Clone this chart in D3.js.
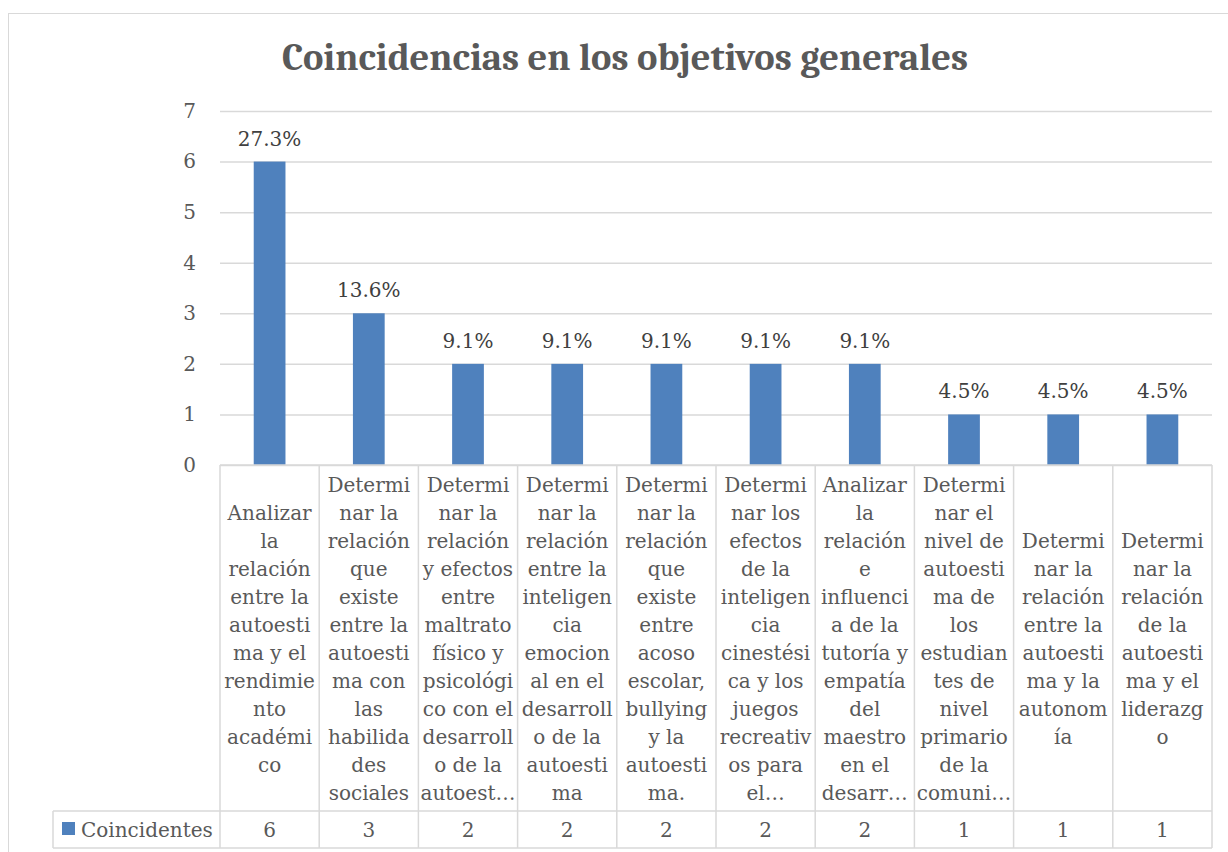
<!DOCTYPE html>
<html>
<head>
<meta charset="utf-8">
<script src="https://cdn.jsdelivr.net/npm/d3@7"></script>
<style>
  html, body { margin: 0; padding: 0; background: #fff; }
  svg { display: block; }
</style>
</head>
<body>
<div id="chart"></div>
<script>
// Data
const seriesName = 'Coincidentes';
const values = [6, 3, 2, 2, 2, 2, 2, 1, 1, 1];
const pctLabels = ['27.3%', '13.6%', '9.1%', '9.1%', '9.1%', '9.1%', '9.1%', '4.5%', '4.5%', '4.5%'];
const yTicks = [0, 1, 2, 3, 4, 5, 6, 7];
// category labels, wrapped the way the table shows them
const categoryLines = [
    ['Analizar', 'la', 'relación', 'entre la', 'autoesti', 'ma y el', 'rendimie', 'nto', 'académi', 'co'],
    ['Determi', 'nar la', 'relación', 'que', 'existe', 'entre la', 'autoesti', 'ma con', 'las', 'habilida', 'des', 'sociales'],
    ['Determi', 'nar la', 'relación', 'y efectos', 'entre', 'maltrato', 'físico y', 'psicológi', 'co con el', 'desarroll', 'o de la', 'autoest…'],
    ['Determi', 'nar la', 'relación', 'entre la', 'inteligen', 'cia', 'emocion', 'al en el', 'desarroll', 'o de la', 'autoesti', 'ma'],
    ['Determi', 'nar la', 'relación', 'que', 'existe', 'entre', 'acoso', 'escolar,', 'bullying', 'y la', 'autoesti', 'ma.'],
    ['Determi', 'nar los', 'efectos', 'de la', 'inteligen', 'cia', 'cinestési', 'ca y los', 'juegos', 'recreativ', 'os para', 'el…'],
    ['Analizar', 'la', 'relación', 'e', 'influenci', 'a de la', 'tutoría y', 'empatía', 'del', 'maestro', 'en el', 'desarr…'],
    ['Determi', 'nar el', 'nivel de', 'autoesti', 'ma de', 'los', 'estudian', 'tes de', 'nivel', 'primario', 'de la', 'comuni…'],
    ['Determi', 'nar la', 'relación', 'entre la', 'autoesti', 'ma y la', 'autonom', 'ía'],
    ['Determi', 'nar la', 'relación', 'de la', 'autoesti', 'ma y el', 'liderazg', 'o']
];
const chartTitle = 'Coincidencias en los objetivos generales';

const W = 1228, H = 852;
const titleFont = "Cambria, 'Liberation Serif', serif";
const font = "'DejaVu Serif', serif";
const fontSize = 20;
const grid = '#d9d9d9';
const barColor = '#4f81bd';

const plot = { left: 220, right: 1212, top: 111, bottom: 465 };
const table = { legendLeft: 53, headBottom: 811, bottom: 848 };
const lineH = 28;
const maxLines = 12;

const svg = d3.select('#chart').append('svg')
    .attr('width', W)
    .attr('height', H);

// outer chart border
svg.append('rect')
    .attr('x', 8.5).attr('y', 13.5)
    .attr('width', W + 10).attr('height', H + 10)
    .attr('fill', '#fff')
    .attr('stroke', grid)
    .attr('stroke-width', 1);

// title
svg.append('text')
    .attr('x', 625).attr('y', 70)
    .attr('text-anchor', 'middle')
    .attr('font-family', titleFont)
    .attr('font-weight', 'bold')
    .attr('font-size', 38.5)
    .attr('fill', '#595959')
    .text(chartTitle);

const idx = values.map((_, i) => i);

const x = d3.scaleBand()
    .domain(idx)
    .range([plot.left, plot.right])
    .paddingInner(0.68)
    .paddingOuter(0.34);

const xCol = d3.scaleBand()
    .domain(idx)
    .range([plot.left, plot.right]);

const y = d3.scaleLinear()
    .domain([0, 7])
    .range([plot.bottom, plot.top]);

// gridlines + y tick labels
const yAxis = d3.axisLeft(y)
    .tickValues(yTicks)
    .tickFormat(d3.format('d'))
    .tickSize(-(plot.right - plot.left))
    .tickPadding(24);

const gy = svg.append('g')
    .attr('transform', `translate(${plot.left},0)`)
    .call(yAxis);
gy.select('.domain').remove();
gy.selectAll('.tick line').attr('stroke', grid).attr('stroke-width', 1.5);
gy.selectAll('.tick text')
    .attr('font-family', font)
    .attr('font-size', fontSize)
    .attr('fill', '#595959');

// bars
svg.append('g')
    .selectAll('rect')
    .data(values)
    .enter()
    .append('rect')
    .attr('x', (_, i) => x(i))
    .attr('y', (d) => y(d))
    .attr('width', x.bandwidth())
    .attr('height', (d) => y(0) - y(d))
    .attr('fill', barColor);

// data labels
svg.append('g')
    .selectAll('text')
    .data(values)
    .enter()
    .append('text')
    .attr('x', (_, i) => x(i) + x.bandwidth() / 2)
    .attr('y', (d) => y(d) - 16)
    .attr('text-anchor', 'middle')
    .attr('font-family', font)
    .attr('font-size', fontSize)
    .attr('fill', '#404040')
    .text((_, i) => pctLabels[i]);

// data table lines
const tbl = svg.append('g')
    .attr('stroke', grid)
    .attr('stroke-width', 1.5);

tbl.append('line')
    .attr('x1', plot.left).attr('x2', plot.right)
    .attr('y1', plot.bottom).attr('y2', plot.bottom);
[table.headBottom, table.bottom].forEach((yy) => {
    tbl.append('line')
        .attr('x1', table.legendLeft).attr('x2', plot.right)
        .attr('y1', yy).attr('y2', yy);
});
tbl.append('line')
    .attr('x1', table.legendLeft).attr('x2', table.legendLeft)
    .attr('y1', table.headBottom).attr('y2', table.bottom);
idx.concat([values.length]).forEach((i) => {
    const xx = i < values.length ? xCol(i) : plot.right;
    tbl.append('line')
        .attr('x1', xx).attr('x2', xx)
        .attr('y1', plot.bottom).attr('y2', table.bottom);
});

// category labels, centred vertically in the header row
const cats = svg.append('g')
    .attr('font-family', font)
    .attr('font-size', fontSize)
    .attr('fill', '#595959')
    .attr('text-anchor', 'middle');

categoryLines.forEach((lines, i) => {
    const off = (maxLines - lines.length) / 2;
    const t = cats.append('text')
        .attr('x', xCol(i) + xCol.bandwidth() / 2);
    lines.forEach((ln, j) => {
        t.append('tspan')
            .attr('x', xCol(i) + xCol.bandwidth() / 2)
            .attr('y', 485 + (j + off) * lineH)
            .attr('dominant-baseline', 'central')
            .text(ln);
    });
});

// values row
const rowY = (table.headBottom + table.bottom) / 2;
svg.append('g')
    .selectAll('text')
    .data(values)
    .enter()
    .append('text')
    .attr('x', (_, i) => xCol(i) + xCol.bandwidth() / 2)
    .attr('y', rowY)
    .attr('dominant-baseline', 'central')
    .attr('text-anchor', 'middle')
    .attr('font-family', font)
    .attr('font-size', fontSize)
    .attr('fill', '#595959')
    .text((d) => d);

// legend key in the table
svg.append('rect')
    .attr('x', 62).attr('y', 822)
    .attr('width', 13).attr('height', 13)
    .attr('fill', barColor);
svg.append('text')
    .attr('x', 81).attr('y', rowY)
    .attr('dominant-baseline', 'central')
    .attr('font-family', font)
    .attr('font-size', fontSize)
    .attr('fill', '#595959')
    .text(seriesName);
</script>
</body>
</html>
